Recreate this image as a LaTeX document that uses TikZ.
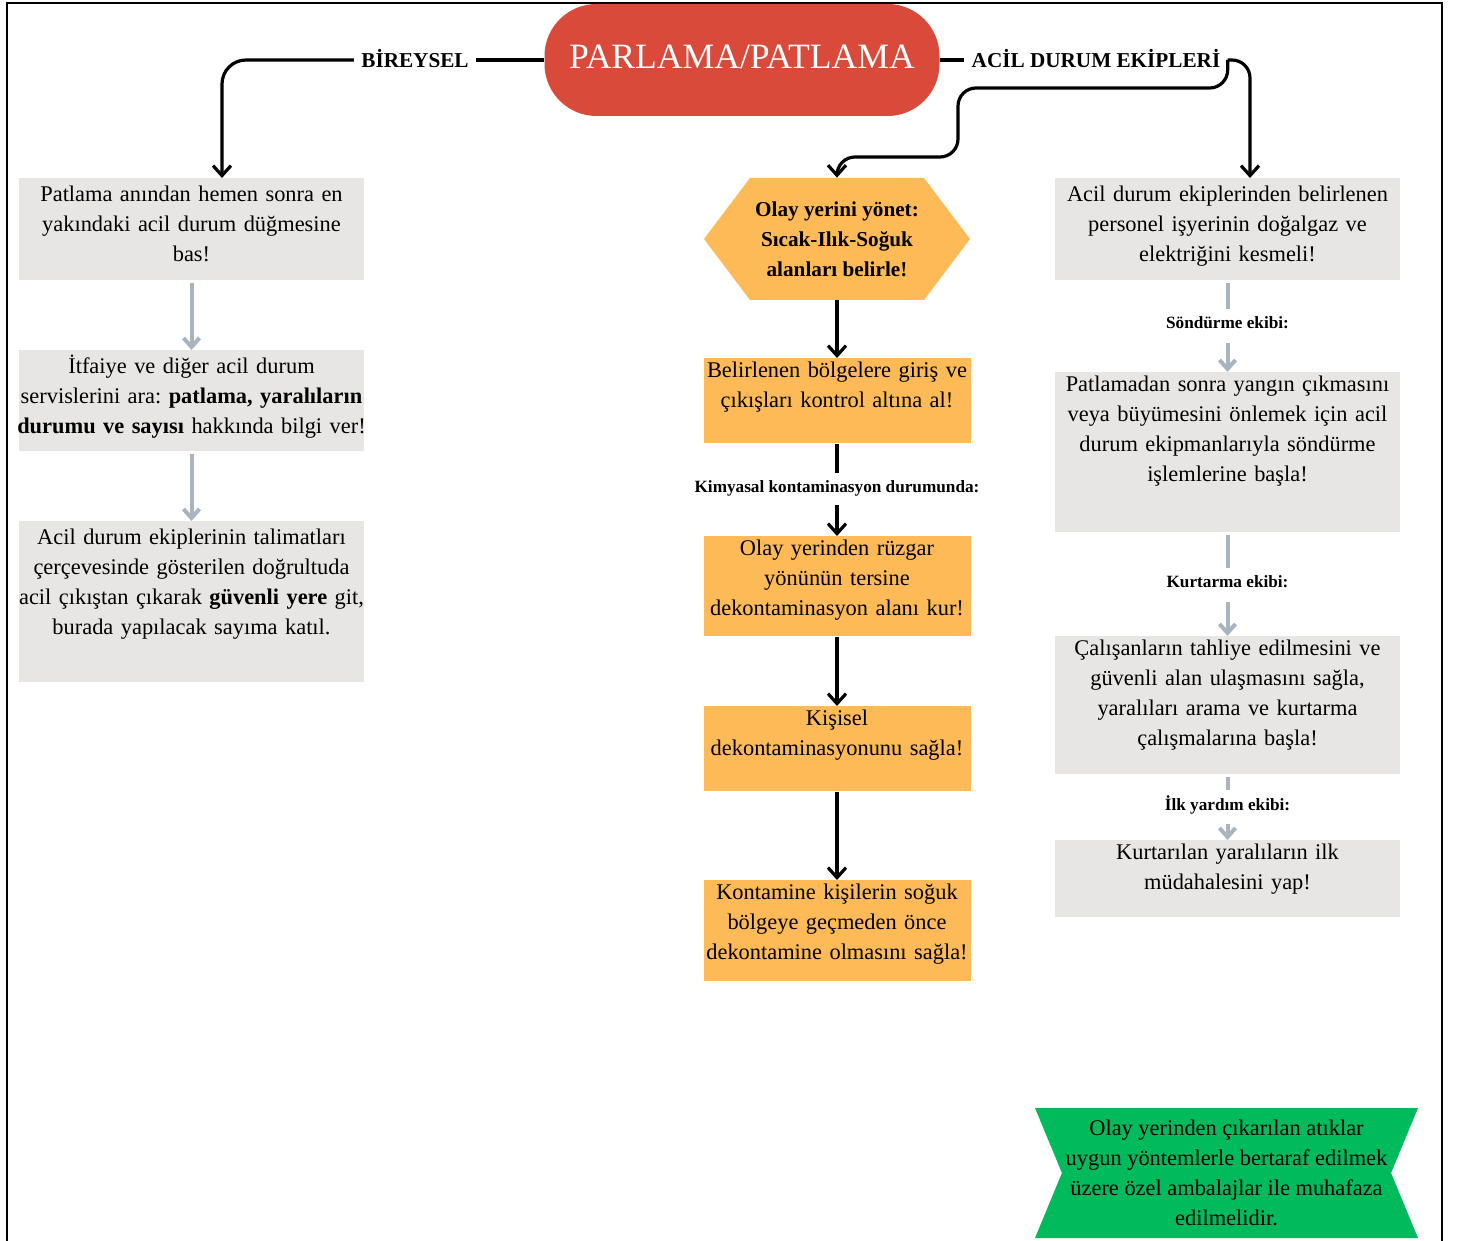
\documentclass[tikz,border=0pt]{standalone}
\usepackage{fontspec}
\setmainfont{Liberation Serif}
\usetikzlibrary{arrows.meta,shapes.symbols}
\frenchspacing

\definecolor{kirmizi}{RGB}{217,74,59}
\definecolor{turuncu}{RGB}{254,186,87}
\definecolor{grikutu}{RGB}{232,230,229}
\definecolor{okgri}{RGB}{168,181,192}
\definecolor{yesil}{RGB}{0,186,92}

\newcommand{\metin}{\fontsize{11.2}{15}\selectfont}
\newcommand{\kalin}{\fontsize{10.6}{15}\selectfont\bfseries}
\newcommand{\kucuk}{\fontsize{8.6}{10}\selectfont\bfseries}

\begin{document}
\begin{tikzpicture}[x=0.5pt,y=-0.5pt,
  kutu/.style={anchor=north, text width=#1, align=center, inner xsep=-9pt, inner ysep=1pt, text height=8.5pt, font=\metin},
  gkutu/.style={kutu=190.5pt, fill=grikutu},
  tkutu/.style={kutu=151.5pt, fill=turuncu},
  baslik/.style={fill=kirmizi, text=white, rounded corners=26pt, minimum width=197.5pt, minimum height=56pt, text depth=3pt, font=\fontsize{17.8}{20}\selectfont},
  dal/.style={font=\kalin, inner xsep=3.5pt, inner ysep=0pt, text depth=1.5pt},
  etiket/.style={font=\kucuk, text height=6pt, text depth=2pt, inner xsep=2pt, inner ysep=4pt},
  altigen/.style={signal, signal to=west and east, signal pointer angle=106, fill=turuncu, minimum width=133pt, minimum height=61pt, align=center, font=\kalin, inner sep=0pt},
  serit/.style={signal, signal to=nowhere, signal from=west and east, signal pointer angle=135, fill=yesil, minimum width=191.5pt, minimum height=65pt, align=center, font=\metin, inner sep=0pt},
  hat/.style={draw=black, line width=1.6pt},
  ok/.style={hat, -{Straight Barb[length=5pt,width=9pt]}},
  grihat/.style={draw=okgri, line width=2pt, shorten <=1pt},
  griok/.style={grihat, -{Straight Barb[length=4.5pt,width=8pt]}}]

  \useasboundingbox (0,0) rectangle (1458,1241);
  \draw[line width=1.3pt] (7,1250) -- (7,3) -- (1442,3) -- (1442,1250);

  % baslik ve dallar
  \node[baslik] (olay) at (742,60) {PARLAMA/PATLAMA};
  \node[dal] (bireysel) at (415,60) {BİREYSEL};
  \node[dal] (acil) at (1096,60) {ACİL DURUM EKİPLERİ};

  % bireysel
  \node[gkutu, text height=10.5pt, text depth=38.5pt] (bas) at (191.5,178) {Patlama anından hemen sonra en\\ yakındaki acil durum düğmesine\\ bas!};
  \node[gkutu, text height=10.5pt, text depth=38pt] (itfaiye) at (191.5,350) {İtfaiye ve diğer acil durum\\ servislerini ara: \textbf{patlama, yaralıların}\\ \textbf{durumu ve sayısı} hakkında bilgi ver!};
  \node[gkutu, text height=10.5pt, text depth=68pt] (guvenli) at (191.5,521) {Acil durum ekiplerinin talimatları\\ çerçevesinde gösterilen doğrultuda\\ acil çıkıştan çıkarak \textbf{güvenli yere} git,\\ burada yapılacak sayıma katıl.};

  % olay yeri
  \node[altigen] (yonet) at (837,239) {Olay yerini yönet:\\ Sıcak-Ilık-Soğuk\\ alanları belirle!};
  \node[tkutu, text depth=32pt] (giris) at (837,358) {Belirlenen bölgelere giriş ve\\ çıkışları kontrol altına al!};
  \node[etiket] (kimyasal) at (837,489) {Kimyasal kontaminasyon durumunda:};
  \node[tkutu, text depth=39.5pt] (ruzgar) at (837,536) {Olay yerinden rüzgar\\ yönünün tersine\\ dekontaminasyon alanı kur!};
  \node[tkutu, text depth=32pt] (kisisel) at (837,706) {Kişisel\\ dekontaminasyonunu sağla!};
  \node[tkutu, text depth=40pt] (soguk) at (837,880) {Kontamine kişilerin soğuk\\ bölgeye geçmeden önce\\ dekontamine olmasını sağla!};

  % ekipler
  \node[gkutu, text height=10.5pt, text depth=38.5pt] (kesme) at (1227.5,178) {Acil durum ekiplerinden belirlenen\\ personel işyerinin doğalgaz ve\\ elektriğini kesmeli!};
  \node[etiket] (sondurme) at (1227.5,325) {Söndürme ekibi:};
  \node[gkutu, text depth=69.5pt] (yangin) at (1227.5,372) {Patlamadan sonra yangın çıkmasını\\ veya büyümesini önlemek için acil\\ durum ekipmanlarıyla söndürme\\ işlemlerine başla!};
  \node[etiket] (kurtarma) at (1227.5,584) {Kurtarma ekibi:};
  \node[gkutu, text depth=58.5pt] (tahliye) at (1227.5,636) {Çalışanların tahliye edilmesini ve\\ güvenli alan ulaşmasını sağla,\\ yaralıları arama ve kurtarma\\ çalışmalarına başla!};
  \node[etiket] (ilkyardim) at (1227.5,806) {İlk yardım ekibi:};
  \node[gkutu, text depth=28pt] (mudahale) at (1227.5,840) {Kurtarılan yaralıların ilk\\ müdahalesini yap!};

  \node[serit] (atik) at (1226.5,1173) {Olay yerinden çıkarılan atıklar\\ uygun yöntemlerle bertaraf edilmek\\ üzere özel ambalajlar ile muhafaza\\ edilmelidir.};

  % baglantilar
  \draw[hat] (olay.west) -- (bireysel.east);
  \draw[ok, rounded corners=12pt] (bireysel.west) -| ([xshift=15.25pt]bas.north);
  \draw[hat] (olay.east) -- (acil.west);
  \draw[ok, rounded corners=9pt] (acil.east) -| ([xshift=11.25pt]kesme.north);
  \draw[ok, rounded corners=9pt] (acil.east) |- (958,88) |- (837,157) -- (yonet.north);

  \draw[griok] (bas.south) -- (itfaiye.north);
  \draw[griok] (itfaiye.south) -- (guvenli.north);

  \draw[ok] (yonet.south) -- (giris.north);
  \draw[hat] (giris.south) -- (kimyasal.north);
  \draw[ok] (kimyasal.south) -- (ruzgar.north);
  \draw[ok] (ruzgar.south) -- (kisisel.north);
  \draw[ok] (kisisel.south) -- (soguk.north);

  \draw[grihat] (kesme.south) -- (sondurme.north);
  \draw[griok] (sondurme.south) -- (yangin.north);
  \draw[grihat] (yangin.south) -- (kurtarma.north);
  \draw[griok] (kurtarma.south) -- (tahliye.north);
  \draw[grihat] (tahliye.south) -- (ilkyardim.north);
  \draw[griok] (ilkyardim.south) -- (mudahale.north);
\end{tikzpicture}
\end{document}
